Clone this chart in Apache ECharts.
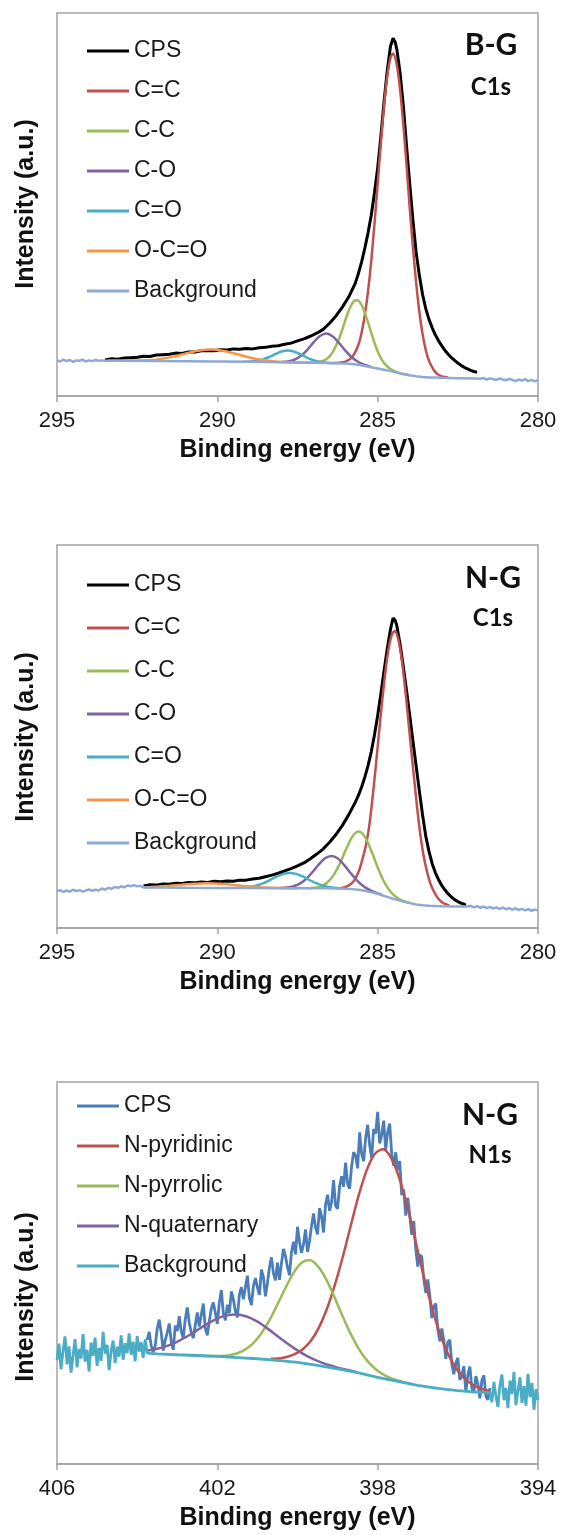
<!DOCTYPE html>
<html>
<head>
<meta charset="utf-8">
<script src="https://cdn.jsdelivr.net/npm/echarts@6/dist/echarts.min.js"></script>
<style>
  html, body { margin: 0; padding: 0; background: #ffffff; }
  #chart { width: 561px; height: 1535px; }
</style>
</head>
<body>
<div id="chart"></div>
<script>
// ---------- Axis ticks (binding energy, eV) ----------
const c1sTicks = [280, 285, 290, 295];
const n1sTicks = [394, 398, 402, 406];

// ---------- Legend entries ----------
const c1sNames = ['CPS', 'C=C', 'C-C', 'C-O', 'C=O', 'O-C=O', 'Background'];
const n1sNames = ['CPS', 'N-pyridinic', 'N-pyrrolic', 'N-quaternary', 'Background'];

// ---------- B-G, C1s: [binding energy, intensity] ----------
const bgCps = [[293.5,9.4],[293.3,9.7],[293.1,9.6],[292.9,9.9],[292.7,10.0],[292.5,10.1],[292.3,10.4],[292.1,10.3],[291.9,10.7],[291.7,10.8],[291.5,10.9],[291.3,11.2],[291.1,11.1],[290.9,11.5],[290.7,11.5],[290.5,11.8],[290.3,11.9],[290.1,11.8],[289.9,12.1],[289.7,12.0],[289.5,12.3],[289.3,12.2],[289.1,12.4],[288.9,12.3],[288.7,12.6],[288.5,12.7],[288.3,13.0],[288.1,13.1],[287.9,13.5],[287.7,13.8],[287.5,14.4],[287.3,14.9],[287.1,15.6],[286.9,16.4],[286.7,17.4],[286.5,19.0],[286.3,20.9],[286.1,23.2],[285.9,25.9],[285.7,29.4],[285.6,32.0],[285.5,35.0],[285.4,38.6],[285.3,42.6],[285.2,47.2],[285.1,53.0],[285.0,59.5],[284.9,67.8],[284.8,77.0],[284.7,85.0],[284.6,91.3],[284.52,93.4],[284.45,92.3],[284.4,90.4],[284.3,84.3],[284.2,75.8],[284.1,65.3],[284.0,55.3],[283.9,45.9],[283.8,37.5],[283.7,31.5],[283.6,26.5],[283.5,22.8],[283.4,20.0],[283.3,17.8],[283.2,15.9],[283.1,14.4],[283.0,13.1],[282.9,11.9],[282.8,10.9],[282.7,10.0],[282.6,9.3],[282.5,8.6],[282.4,8.0],[282.3,7.5],[282.2,7.1],[282.1,6.7],[282.0,6.4],[281.9,6.2]];
const bgCC2 = [[286.4,8.6],[286.2,8.7],[286.0,9.0],[285.8,10.1],[285.6,13.4],[285.5,16.6],[285.4,21.2],[285.3,27.4],[285.2,35.3],[285.1,44.9],[285.0,55.4],[284.9,66.0],[284.8,75.9],[284.7,83.6],[284.6,88.3],[284.52,89.4],[284.4,86.3],[284.3,79.9],[284.2,70.9],[284.1,60.3],[284.0,49.2],[283.9,38.8],[283.8,29.6],[283.7,22.0],[283.6,16.2],[283.5,12.0],[283.4,9.2],[283.2,6.2],[283.0,5.1],[282.8,4.8]];
const bgCC1 = [[287.2,8.71],[287.0,8.75],[286.8,8.92],[286.6,9.6],[286.4,11.45],[286.2,15.1],[286.1,17.4],[286.0,20.0],[285.9,22.3],[285.8,24.1],[285.7,25.0],[285.6,24.9],[285.5,23.75],[285.4,21.75],[285.3,19.2],[285.2,16.5],[285.1,13.9],[285.0,11.7],[284.9,9.9],[284.8,8.6],[284.7,7.7],[284.6,7.05],[284.4,6.2],[284.2,5.75],[284.0,5.4]];
const bgCO1 = [[288.0,8.87],[287.8,9.0],[287.6,9.47],[287.4,10.43],[287.2,12.0],[287.0,13.98],[286.8,15.65],[286.6,16.3],[286.4,15.56],[286.2,13.8],[286.0,11.79],[285.8,10.05],[285.6,8.87],[285.4,8.11],[285.2,7.57]];
const bgCO2 = [[289.2,8.95],[289.0,9.02],[288.8,9.16],[288.6,9.51],[288.4,10.12],[288.2,10.91],[288.0,11.61],[287.8,11.87],[287.6,11.56],[287.4,10.82],[287.2,9.98],[287.0,9.34],[286.8,8.91],[286.6,8.69],[286.4,8.56]];
const bgOCO = [[293.4,9.19],[292.6,9.21],[292.2,9.31],[291.8,9.63],[291.4,10.22],[291.0,11.06],[290.6,11.8],[290.2,12.11],[289.8,11.76],[289.4,10.95],[289.0,10.07],[288.6,9.41],[288.2,9.02],[287.8,8.84],[287.4,8.74],[287.0,8.7]];
const bgBack = [[295.0,9.3],[294.9,9.0],[294.8,9.5],[294.7,9.1],[294.6,9.4],[294.5,8.9],[294.4,9.3],[294.3,9.2],[294.2,9.5],[294.1,9.0],[294.0,9.3],[293.9,9.1],[293.8,9.4],[293.7,9.2],[293.6,9.3],[293.5,9.2],[293.0,9.18],[292.0,9.13],[291.0,9.07],[290.0,9.0],[289.0,8.93],[288.0,8.8],[287.0,8.7],[286.5,8.6],[286.0,8.5],[285.8,8.35],[285.6,8.15],[285.4,7.85],[285.2,7.5],[285.0,7.2],[284.8,6.85],[284.6,6.5],[284.4,6.1],[284.2,5.75],[284.0,5.4],[283.8,5.15],[283.6,4.95],[283.4,4.85],[283.2,4.8],[283.0,4.75],[282.5,4.65],[282.0,4.55],[281.8,4.5],[281.7,4.7],[281.6,4.3],[281.5,4.6],[281.4,4.4],[281.3,4.2],[281.2,4.6],[281.1,4.3],[281.0,4.1],[280.9,4.5],[280.8,4.2],[280.7,3.9],[280.6,4.3],[280.5,4.0],[280.4,4.4],[280.3,3.9],[280.2,4.2],[280.1,3.8],[280.0,4.1]];

// ---------- N-G, C1s: [binding energy, intensity] ----------
const ngCps = [[292.3,11.0],[292.1,11.3],[291.9,11.2],[291.7,11.5],[291.5,11.4],[291.3,11.7],[291.1,11.6],[290.9,11.9],[290.7,11.8],[290.5,12.0],[290.3,11.9],[290.1,12.2],[289.9,12.1],[289.7,12.3],[289.5,12.2],[289.3,12.5],[289.1,12.5],[288.9,12.8],[288.7,13.0],[288.5,13.4],[288.3,13.8],[288.1,14.3],[287.9,14.9],[287.7,15.5],[287.5,16.2],[287.3,17.0],[287.1,18.1],[286.9,19.3],[286.7,20.6],[286.5,22.4],[286.3,24.4],[286.1,26.8],[285.9,29.6],[285.7,32.8],[285.6,34.6],[285.5,36.8],[285.4,39.4],[285.3,42.4],[285.2,46.0],[285.1,50.4],[285.0,55.5],[284.9,61.2],[284.8,67.2],[284.7,73.0],[284.6,78.0],[284.52,80.9],[284.45,80.3],[284.4,78.8],[284.3,74.0],[284.2,68.2],[284.1,62.0],[284.0,55.5],[283.9,48.8],[283.8,42.3],[283.7,35.8],[283.6,29.5],[283.5,24.0],[283.4,20.0],[283.3,16.8],[283.2,14.4],[283.1,12.6],[283.0,11.1],[282.9,9.9],[282.8,8.9],[282.7,8.1],[282.6,7.4],[282.5,6.9],[282.4,6.5],[282.3,6.2],[282.25,6.0]];
const ngCC2 = [[286.17,10.37],[285.97,10.83],[285.77,12.0],[285.67,13.35],[285.57,15.25],[285.47,18.1],[285.37,21.5],[285.27,26.2],[285.17,33.2],[285.07,41.3],[284.97,49.9],[284.87,58.4],[284.77,66.1],[284.67,72.35],[284.57,76.3],[284.47,77.55],[284.37,75.8],[284.27,71.35],[284.17,64.65],[284.07,56.45],[283.97,47.8],[283.87,39.6],[283.77,31.5],[283.67,24.4],[283.57,19.0],[283.47,15.0],[283.37,12.0],[283.27,9.9],[283.17,8.4],[283.07,7.3],[282.97,6.6],[282.87,6.2],[282.77,5.9]];
const ngCC1 = [[287.18,10.41],[286.98,10.53],[286.78,10.89],[286.58,11.83],[286.38,13.74],[286.18,16.81],[285.98,20.67],[285.78,23.98],[285.58,25.18],[285.38,23.52],[285.18,19.77],[284.98,15.42],[284.78,11.77],[284.58,9.28],[284.38,7.83],[284.18,7.02],[283.98,6.51]];
const ngCO1 = [[288.04,10.45],[287.84,10.57],[287.64,10.87],[287.44,11.54],[287.24,12.74],[287.04,14.51],[286.84,16.53],[286.64,18.2],[286.44,18.83],[286.24,18.15],[286.04,16.4],[285.84,14.31],[285.64,12.39],[285.44,10.91],[285.24,9.9],[285.04,9.16],[284.84,8.55]];
const ngCO2 = [[289.34,10.49],[289.14,10.58],[288.94,10.79],[288.74,11.18],[288.54,11.8],[288.34,12.61],[288.14,13.47],[287.94,14.14],[287.74,14.39],[287.54,14.13],[287.34,13.46],[287.14,12.59],[286.94,11.76],[286.74,11.13],[286.54,10.72],[286.34,10.49],[286.14,10.32]];
const ngOCO = [[292.3,10.65],[291.9,10.79],[291.5,11.02],[291.1,11.32],[290.7,11.57],[290.3,11.66],[289.9,11.53],[289.5,11.24],[289.1,10.91],[288.7,10.66],[288.3,10.5],[287.9,10.43],[287.5,10.39]];
const ngBack = [[295.0,9.6],[294.9,9.9],[294.8,9.4],[294.7,9.8],[294.6,9.5],[294.5,10.0],[294.4,9.6],[294.3,9.9],[294.2,9.5],[294.1,9.8],[294.0,10.1],[293.9,9.7],[293.8,10.0],[293.7,9.8],[293.6,10.3],[293.5,10.0],[293.4,10.5],[293.3,10.2],[293.2,10.7],[293.1,10.5],[293.0,10.9],[292.9,10.6],[292.8,11.1],[292.7,10.9],[292.6,11.2],[292.5,10.9],[292.4,11.0],[292.3,10.6],[292.0,10.55],[291.0,10.5],[290.0,10.46],[289.0,10.42],[288.0,10.4],[287.0,10.37],[286.5,10.35],[286.0,10.25],[285.8,10.15],[285.6,10.0],[285.4,9.7],[285.2,9.35],[285.0,8.9],[284.8,8.4],[284.6,7.85],[284.4,7.35],[284.2,6.9],[284.0,6.5],[283.8,6.15],[283.6,5.95],[283.4,5.8],[283.2,5.72],[283.0,5.68],[282.6,5.62],[282.2,5.6],[282.1,5.8],[282.0,5.4],[281.9,5.7],[281.8,5.3],[281.7,5.6],[281.6,5.2],[281.5,5.5],[281.4,5.1],[281.3,5.4],[281.2,5.0],[281.1,5.3],[281.0,4.9],[280.9,5.2],[280.8,4.8],[280.7,5.1],[280.6,4.7],[280.5,5.0],[280.4,4.6],[280.3,4.9],[280.2,4.5],[280.1,4.8],[280.0,4.6]];

// ---------- N-G, N1s ----------
// Raw counts recorded on a 0.05 eV grid, listed from high to low binding energy.
const n1sStep = 0.05;
const n1sCpsStart = 403.75;
const n1sCps = [32.5,34.6,31.0,29.3,31.0,35.4,37.8,34.4,29.7,32.4,34.4,36.8,32.0,29.9,36.2,34.8,38.7,34.7,32.9,37.9,41.0,36.9,34.4,33.0,36.3,39.7,36.0,39.1,42.0,35.6,33.7,37.4,40.7,42.3,39.5,36.7,42.3,45.5,39.5,37.6,41.7,39.5,45.2,43.1,40.0,38.4,44.3,46.3,43.1,46.2,49.3,43.4,41.6,46.6,48.7,46.2,44.3,50.9,48.9,43.9,47.4,51.5,54.1,49.9,48.1,52.7,48.2,52.5,56.3,54.4,51.6,49.4,55.5,58.2,54.9,62.1,58.2,55.3,57.5,61.4,55.5,58.4,62.3,65.6,61.9,60.1,67.0,64.9,60.6,67.9,70.5,66.3,68.5,74.3,67.6,66.8,72.7,75.3,72.6,78.9,73.3,72.1,77.9,81.6,80.8,77.4,86.8,81.2,79.3,85.4,88.8,83.5,80.1,87.7,86.5,92.2,83.9,86.1,89.9,82.2,86.9,89.1,81.1,78.1,81.6,76.9,79.3,70.4,71.9,65.0,69.7,65.3,60.0,63.6,56.3,51.7,54.7,54.3,48.4,44.8,48.3,44.2,38.2,41.3,42.0,35.2,32.1,35.5,32.4,27.5,31.9,32.5,26.2,23.5,26.4,27.8,22.0,23.2,25.6,18.8,23.2,25.5,19.8,18.6,23.0,21.0,17.2,21.9,23.2,17.8,16.8,19.9];
const n1sBackLeftStart = 406.0;
const n1sBackLeft = [27.2,31.5,24.8,29.6,33.4,26.1,30.8,23.9,28.4,32.7,25.3,30.1,27.6,34.0,26.8,29.9,24.2,31.8,28.3,33.1,25.7,30.4,27.0,34.6,28.9,31.2,24.6,29.5,32.3,26.4,30.7,28.1,33.7,27.3,31.6,29.0,34.2,28.6,32.0,26.9,33.5,29.4,31.9,27.8,32.6,29.0];
const n1sBackFit = [[403.75,29.0],[403.5,28.85],[403.0,28.6],[402.5,28.4],[402.0,28.15],[401.5,27.85],[401.0,27.55],[400.5,27.15],[400.0,26.6],[399.5,25.8],[399.0,24.9],[398.5,23.9],[398.0,22.7],[397.5,21.6],[397.0,20.6],[396.5,19.8],[396.0,19.2],[395.6,18.9],[395.2,18.7]];
const n1sBackRightStart = 395.15;
const n1sBackRight = [16.2,21.5,17.8,14.9,20.6,23.4,16.7,19.9,14.6,21.8,18.3,24.1,15.4,19.2,22.7,16.0,20.4,15.3,23.6,17.5,21.2,14.2,19.6,16.8];
const n1sPyridinic = [[400.67,27.52],[400.47,27.64],[400.27,27.99],[400.07,28.75],[399.87,30.05],[399.67,32.2],[399.47,35.65],[399.27,40.5],[399.07,46.8],[398.87,54.25],[398.67,62.45],[398.47,70.45],[398.27,77.0],[398.07,81.2],[397.87,82.4],[397.67,80.25],[397.47,75.1],[397.27,67.75],[397.07,58.95],[396.87,50.0],[396.67,41.85],[396.47,34.85],[396.27,29.4],[396.07,25.45],[395.87,22.75],[395.67,21.0],[395.47,19.89],[395.27,19.27],[395.2,19.1]];
const n1sPyrrolic = [[402.7,28.5],[402.1,28.26],[401.9,28.29],[401.7,28.48],[401.5,29.0],[401.3,30.01],[401.1,31.67],[400.9,34.23],[400.7,37.65],[400.5,41.78],[400.3,46.11],[400.1,50.03],[399.9,52.67],[399.7,53.4],[399.5,51.87],[399.3,48.68],[399.1,44.21],[398.9,39.33],[398.7,34.65],[398.5,30.68],[398.3,27.52],[398.1,25.26],[397.9,23.7],[397.7,22.63],[397.5,21.86],[397.3,21.31],[397.1,20.8]];
const n1sQuaternary = [[403.77,29.67],[403.52,30.12],[403.27,30.85],[403.02,31.93],[402.77,33.31],[402.52,34.92],[402.27,36.56],[402.02,37.99],[401.77,38.92],[401.52,39.15],[401.27,38.62],[401.02,37.39],[400.77,35.63],[400.52,33.66],[400.27,31.68],[400.02,29.88],[399.77,28.3],[399.52,27.07],[399.27,26.07],[399.02,25.3],[398.77,24.67],[398.52,24.02]];

// ---------- Helpers ----------
function onGrid(values, start, step) {
  return values.map((v, i) => [+(start - i * step).toFixed(2), v]);
}
const n1sBack = onGrid(n1sBackLeft, n1sBackLeftStart, n1sStep)
  .concat(n1sBackFit)
  .concat(onGrid(n1sBackRight, n1sBackRightStart, n1sStep));
const n1sCpsPts = onGrid(n1sCps, n1sCpsStart, n1sStep);

const COL = {
  black: '#000000', red: '#c0504d', green: '#9bbb59', purple: '#8064a2',
  cyan: '#4bacc6', orange: '#f79646', lightBlue: '#8fa9d6', blue: '#4a7ebb'
};
const SANS = '"Liberation Sans", Arial, sans-serif';
const TITLE = 'Lato, "Open Sans", sans-serif';

function line(name, data, color, g, width, smooth) {
  return {
    type: 'line', name: name, data: data, xAxisIndex: g, yAxisIndex: g,
    symbol: 'none', showSymbol: false, smooth: smooth ? 0.3 : false,
    lineStyle: { color: color, width: width }, itemStyle: { color: color },
    silent: true, animation: false, z: 2
  };
}

const grids = [
  { left: 57, top: 13, width: 481, height: 383 },
  { left: 57, top: 545, width: 481, height: 383 },
  { left: 57, top: 1082, width: 481, height: 382 }
].map(g => Object.assign(g, { show: true, borderColor: '#a3a3a3', borderWidth: 1.5, containLabel: false }));

function xAxis(g, ticks) {
  return {
    gridIndex: g, type: 'value', inverse: true,
    min: ticks[0], max: ticks[ticks.length - 1], interval: ticks[1] - ticks[0],
    axisLine: { show: true, onZero: false, lineStyle: { color: '#a3a3a3', width: 1.5 } },
    axisTick: { show: true, inside: false, length: 6, lineStyle: { color: '#a3a3a3', width: 1.5 } },
    axisLabel: { fontSize: 22, color: '#1a1a1a', margin: 14, fontFamily: SANS },
    splitLine: { show: false },
    name: 'Binding energy (eV)', nameLocation: 'middle', nameGap: 42,
    nameTextStyle: { fontSize: 25, fontWeight: 'bold', color: '#111', fontFamily: SANS }
  };
}
function yAxis(g) {
  return { gridIndex: g, type: 'value', min: 0, max: 100, show: false };
}

function legend(names, colors, left, top, gap) {
  return {
    orient: 'vertical', left: left, top: top, icon: 'rect',
    itemWidth: 42, itemHeight: 3, itemGap: gap, selectedMode: false,
    textStyle: { fontSize: 23, lineHeight: 24, color: '#1a1a1a', fontFamily: SANS },
    data: names.map((n, i) => ({ name: n, itemStyle: { color: colors[i] } }))
  };
}

function yTitle(x, y) {
  return {
    type: 'text', x: x, y: y, rotation: Math.PI / 2, silent: true,
    style: { text: 'Intensity (a.u.)', fontSize: 25, fontWeight: 'bold', fill: '#111',
             fontFamily: SANS, align: 'center', verticalAlign: 'middle' }
  };
}
function tag(text, x, y, size) {
  return {
    type: 'text', x: x, y: y, silent: true,
    style: { text: text, fontSize: size, fontWeight: 'bold', fill: '#111',
             fontFamily: TITLE, align: 'center', verticalAlign: 'middle' }
  };
}

const c1sColors = [COL.black, COL.red, COL.green, COL.purple, COL.cyan, COL.orange, COL.lightBlue];
const n1sColors = [COL.blue, COL.red, COL.green, COL.purple, COL.cyan];

const option = {
  animation: false,
  backgroundColor: '#ffffff',
  grid: grids,
  xAxis: [xAxis(0, c1sTicks), xAxis(1, c1sTicks), xAxis(2, n1sTicks)],
  yAxis: [yAxis(0), yAxis(1), yAxis(2)],
  legend: [
    legend(c1sNames, c1sColors, 82, 34, 16),
    legend(c1sNames, c1sColors, 82, 568, 19),
    legend(n1sNames, n1sColors, 72, 1089, 16)
  ],
  graphic: [
    yTitle(26, 204), yTitle(26, 737), yTitle(26, 1297),
    tag('B-G', 491, 45, 30), tag('C1s', 491, 87, 24),
    tag('N-G', 493, 578, 30), tag('C1s', 493, 618, 24),
    tag('N-G', 490, 1115, 30), tag('N1s', 490, 1155, 24)
  ],
  series: [
    // B-G C1s
    line('CPS', bgCps, COL.black, 0, 3, false),
    line('C=C', bgCC2, COL.red, 0, 2.5, true),
    line('C-C', bgCC1, COL.green, 0, 2.5, true),
    line('C-O', bgCO1, COL.purple, 0, 2.5, true),
    line('C=O', bgCO2, COL.cyan, 0, 2.5, true),
    line('O-C=O', bgOCO, COL.orange, 0, 2.5, true),
    line('Background', bgBack, COL.lightBlue, 0, 2.5, false),
    // N-G C1s
    line('CPS', ngCps, COL.black, 1, 3, false),
    line('C=C', ngCC2, COL.red, 1, 2.5, true),
    line('C-C', ngCC1, COL.green, 1, 2.5, true),
    line('C-O', ngCO1, COL.purple, 1, 2.5, true),
    line('C=O', ngCO2, COL.cyan, 1, 2.5, true),
    line('O-C=O', ngOCO, COL.orange, 1, 2.5, true),
    line('Background', ngBack, COL.lightBlue, 1, 2.5, false),
    // N-G N1s
    line('CPS', n1sCpsPts, COL.blue, 2, 2.8, false),
    line('N-pyridinic', n1sPyridinic, COL.red, 2, 2.5, true),
    line('N-pyrrolic', n1sPyrrolic, COL.green, 2, 2.5, true),
    line('N-quaternary', n1sQuaternary, COL.purple, 2, 2.5, true),
    line('Background', n1sBack, COL.cyan, 2, 2.8, false)
  ]
};

const chart = echarts.init(document.getElementById('chart'), null, { renderer: 'canvas' });
chart.setOption(option);
</script>
</body>
</html>
